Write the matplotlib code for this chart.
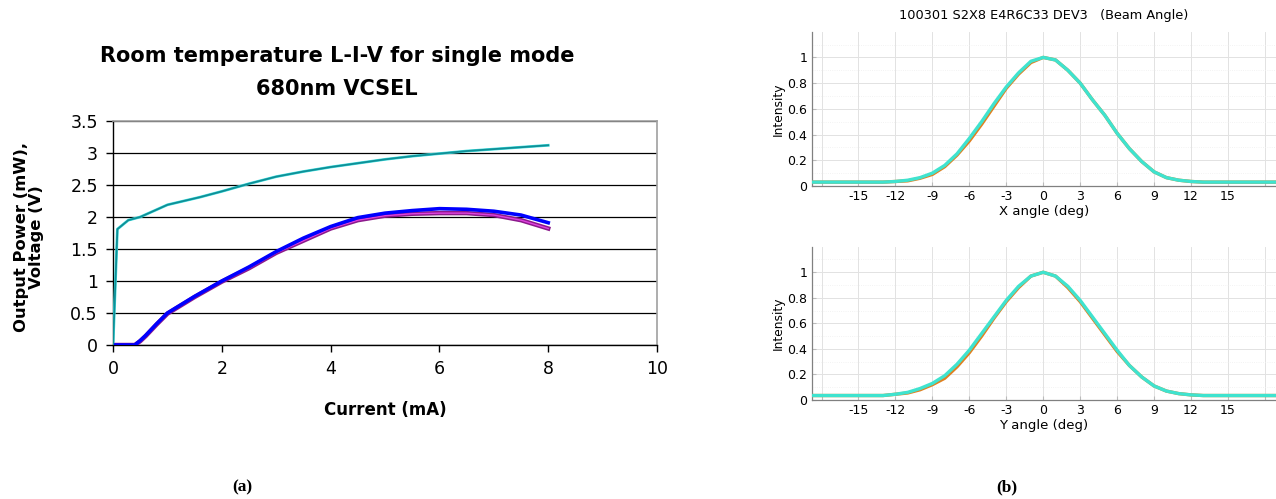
import matplotlib.pyplot as plt
import numpy as np

plt.rcParams["font.family"] = ["DejaVu Sans"]
plt.rcParams["axes.unicode_minus"] = False

# (a) L-I-V data
current_v = [0.0, 0.08, 0.28, 0.5, 1.0, 1.6, 2.0, 2.5, 3.0, 3.5, 4.0, 4.5, 5.0,
             5.5, 6.0, 6.5, 7.0, 7.5, 8.0]
voltage = [0.0, 1.81, 1.95, 2.0, 2.19, 2.31, 2.40, 2.52, 2.63, 2.71, 2.78, 2.84,
           2.90, 2.95, 2.99, 3.03, 3.06, 3.09, 3.12]

current_p = [0.0, 0.2, 0.4, 0.5, 0.6, 0.8, 1.0, 1.5, 2.0, 2.5, 3.0, 3.5, 4.0,
             4.5, 5.0, 5.5, 6.0, 6.5, 7.0, 7.5, 8.0]
power_blue = [0.0, 0.0, 0.0, 0.07, 0.15, 0.33, 0.50, 0.76, 1.00, 1.22, 1.46,
              1.67, 1.85, 1.99, 2.06, 2.10, 2.13, 2.12, 2.09, 2.03, 1.91]
power_purple = [0.0, 0.0, 0.0, 0.06, 0.14, 0.32, 0.49, 0.75, 0.99, 1.20, 1.44,
                1.63, 1.82, 1.95, 2.02, 2.05, 2.06, 2.06, 2.03, 1.95, 1.82]

# (b) far-field beam profiles
angle = list(range(-19, 20))
x_cyan = [0.03, 0.03, 0.03, 0.03, 0.03, 0.03, 0.03, 0.035, 0.045, 0.065, 0.10,
          0.16, 0.25, 0.37, 0.50, 0.64, 0.77, 0.88, 0.97, 1.00, 0.98, 0.90,
          0.80, 0.67, 0.55, 0.41, 0.29, 0.19, 0.11, 0.065, 0.045, 0.035, 0.03,
          0.03, 0.03, 0.03, 0.03, 0.03, 0.03]
x_orange = [0.03, 0.03, 0.03, 0.03, 0.03, 0.03, 0.03, 0.035, 0.04, 0.06, 0.09,
            0.15, 0.24, 0.35, 0.48, 0.62, 0.76, 0.87, 0.96, 1.00, 0.98, 0.90,
            0.80, 0.67, 0.55, 0.41, 0.29, 0.19, 0.11, 0.065, 0.045, 0.035, 0.03,
            0.03, 0.03, 0.03, 0.03, 0.03, 0.03]
y_cyan = [0.035, 0.035, 0.035, 0.035, 0.035, 0.035, 0.035, 0.045, 0.06, 0.09,
          0.13, 0.19, 0.28, 0.39, 0.52, 0.65, 0.78, 0.89, 0.97, 1.00, 0.97,
          0.89, 0.78, 0.65, 0.52, 0.39, 0.27, 0.18, 0.11, 0.07, 0.05, 0.04,
          0.035, 0.035, 0.035, 0.035, 0.035, 0.035, 0.035]
y_orange = [0.035, 0.035, 0.035, 0.035, 0.035, 0.035, 0.035, 0.045, 0.055, 0.08,
            0.12, 0.17, 0.26, 0.37, 0.50, 0.64, 0.77, 0.88, 0.97, 1.00, 0.97,
            0.88, 0.77, 0.64, 0.51, 0.38, 0.27, 0.18, 0.11, 0.07, 0.05, 0.04,
            0.035, 0.035, 0.035, 0.035, 0.035, 0.035, 0.035]

W, H = 1276, 499
fig = plt.figure(figsize=(W / 100, H / 100), dpi=100)

# ---- panel (a) ----
ax = fig.add_axes([0.0886, 0.3086, 0.4263, 0.449])
ax.plot(current_p, power_purple, color="#8b1a8b", lw=3.2, zorder=3)
ax.plot(current_p, power_purple, color="#e040e0", lw=1.0, zorder=3)
ax.plot(current_p, power_blue, color="#0000ff", lw=2.6, zorder=4)
ax.plot(current_v, voltage, color="#40e0e0", lw=2.0, zorder=3)
ax.plot(current_v, voltage, color="#108e96", lw=1.3, zorder=4)
ax.set_xlim(0, 10)
ax.set_ylim(0, 3.5)
ax.set_xticks(np.arange(0, 11, 2))
ax.set_yticks(np.arange(0, 3.51, 0.5))
ax.set_yticklabels(["0", "0.5", "1", "1.5", "2", "2.5", "3", "3.5"])
ax.yaxis.grid(True, color="black", lw=0.9)
ax.set_axisbelow(True)
for s in ["top", "right"]:
    ax.spines[s].set_color("#a0a0a0")
    ax.spines[s].set_linewidth(1.2)
for s in ["left", "bottom"]:
    ax.spines[s].set_color("black")
    ax.spines[s].set_linewidth(1.0)
ax.tick_params(direction="out", length=5, width=1, labelsize=12.5, pad=6)

# chart title, axis titles
fig.text(337 / W, 1 - 62 / H, "Room temperature L-I-V for single mode",
         fontsize=15, fontweight="bold", ha="center", va="baseline")
fig.text(337 / W, 1 - 95 / H, "680nm VCSEL",
         fontsize=15, fontweight="bold", ha="center", va="baseline")
fig.text(385 / W, 1 - 410 / H, "Current (mA)", fontsize=12,
         fontweight="bold", ha="center", va="center")
fig.text(29 / W, 1 - 237 / H, "Output Power (mW),\nVoltage (V)",
         fontsize=11.8, fontweight="bold", ha="center", va="center",
         rotation=90, multialignment="center", linespacing=1.05)


def beam_axes(rect, xs, orange, cyan, xlabel, title=None):
    a = fig.add_axes(rect)
    a.plot(xs, orange, color="#e08020", lw=2.4, zorder=3)
    a.plot(xs, cyan, color="#3fe3cf", lw=2.4, zorder=4)
    a.set_xlim(-18.8, 18.9)
    a.set_ylim(0, 1.2)
    a.set_xticks(np.arange(-18, 19, 3))
    a.set_xticklabels([""] + [str(v) for v in range(-15, 16, 3)] + [""])
    a.set_yticks([0, 0.2, 0.4, 0.6, 0.8, 1.0])
    a.set_yticklabels(["0", "0.2", "0.4", "0.6", "0.8", "1"])
    a.set_yticks(np.arange(0.1, 1.2, 0.2), minor=True)
    a.grid(True, which="major", color="#e2e2e2", lw=0.7)
    a.grid(True, which="minor", axis="y", color="#efefef", lw=0.6, ls=":")
    a.set_axisbelow(True)
    for s in ["top", "right"]:
        a.spines[s].set_visible(False)
    for s in ["left", "bottom"]:
        a.spines[s].set_color("#808080")
        a.spines[s].set_linewidth(0.9)
    a.tick_params(which="both", direction="in", length=3, color="#bbbbbb",
                  labelsize=9, pad=3)
    a.tick_params(which="minor", length=0)
    a.set_xlabel(xlabel, fontsize=9.5, labelpad=1)
    a.set_ylabel("Intensity", fontsize=8.8, labelpad=2)
    if title:
        a.set_title(title, fontsize=9.3, pad=9)
    return a


beam_axes([0.6361, 0.6273, 0.3639, 0.3092], angle, x_orange, x_cyan,
          "X angle (deg)", "100301 S2X8 E4R6C33 DEV3   (Beam Angle)")
beam_axes([0.6361, 0.1984, 0.3639, 0.3072], angle, y_orange, y_cyan,
          "Y angle (deg)")

fig.text(242 / W, 1 - 487 / H, "(a)", family="Liberation Serif",
         fontweight="bold", fontsize=12.5, ha="center", va="center")
fig.text(1007 / W, 1 - 487 / H, "(b)", family="Liberation Serif",
         fontweight="bold", fontsize=12.5, ha="center", va="center")

fig.savefig("out.png", dpi=100)
